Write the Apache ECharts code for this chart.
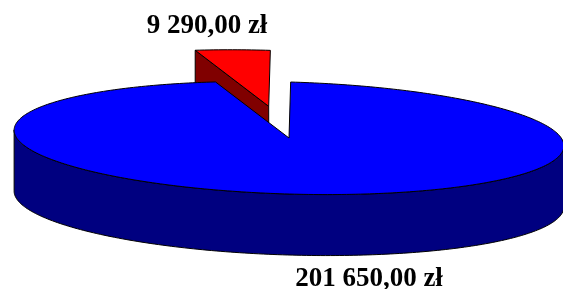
<!DOCTYPE html>
<html>
<head>
<meta charset="utf-8">
<script src="https://cdn.jsdelivr.net/npm/echarts@6/dist/echarts.min.js"></script>
<style>
html, body { margin: 0; padding: 0; background: #fff; }
#chart { width: 563px; height: 289px; }
</style>
</head>
<body>
<div id="chart"></div>
<script>
// dane wykresu
var names = ['Pozostałe', 'Wydzielone'];
var values = [201650, 9290];
var explode = [0, 0.56];          // wysunięcie wycinka (ułamek promienia)
var topColors = ['#0000ff', '#ff0000'];
var sideColors = ['#000080', '#800000'];

var opts = {
    cx: 289,        // środek elipsy
    cy: 138,
    rx: 275,        // półosie
    ry: 56,
    depth: 61,      // grubość placka
    tilt: 1.7 * Math.PI / 180
};

function fmt(v) {
    var s = v.toFixed(2).split('.');
    return s[0].replace(/\B(?=(\d{3})+(?!\d))/g, ' ') + ',' + s[1] + ' zł';
}

var total = values.reduce(function (a, b) { return a + b; }, 0);
var starts = [], acc = 0;
for (var i = 0; i < values.length; i++) {
    starts.push(acc / total * Math.PI * 2);
    acc += values[i];
}

// kąt liczony zgodnie z zegarem od godz. 12
function proj(theta, r, ox, oy, dz) {
    var x = opts.rx * r * Math.sin(theta),
        y = -opts.ry * r * Math.cos(theta),
        c = Math.cos(opts.tilt), s = Math.sin(opts.tilt);
    return [opts.cx + ox + x * c - y * s, opts.cy + oy + x * s + y * c + (dz || 0)];
}

function arc(a, b, ox, oy, dz) {
    var pts = [], n = Math.max(2, Math.ceil(Math.abs(b - a) / (Math.PI / 180)));
    for (var k = 0; k <= n; k++) {
        pts.push(proj(a + (b - a) * k / n, 1, ox, oy, dz));
    }
    return pts;
}

function renderItem(params, api) {
    var i = params.dataIndex,
        h = opts.depth,
        a1 = starts[i],
        a2 = a1 + api.value(0) / total * Math.PI * 2,
        mid = (a1 + a2) / 2,
        off = proj(mid, explode[i], 0, 0),
        ox = off[0] - opts.cx,
        oy = off[1] - opts.cy,
        base = 100 + Math.round(oy) * 10,
        line = { stroke: '#000', lineWidth: 1, lineJoin: 'round' },
        children = [];
    var C = [opts.cx + ox, opts.cy + oy],
        Ch = [C[0], C[1] + h];

    function face(points, fill, z) {
        children.push({
            type: 'polygon',
            z2: base + z,
            shape: { points: points },
            style: Object.assign({ fill: fill }, line)
        });
    }

    // ściany boczne przy krawędziach
    if (Math.sin(a1) < -0.01) {
        var p1 = proj(a1, 1, ox, oy);
        face([C, p1, [p1[0], p1[1] + h], Ch], sideColors[i], 1);
    }
    if (Math.sin(a2) > 0.01) {
        var p2 = proj(a2, 1, ox, oy);
        face([C, p2, [p2[0], p2[1] + h], Ch], sideColors[i], 1);
    }
    // ściana zewnętrzna (tylko przednia część)
    var lo = Math.max(a1, Math.PI / 2), hi = Math.min(a2, Math.PI * 1.5);
    if (lo < hi) {
        var topArc = arc(lo, hi, ox, oy, 0),
            botArc = arc(hi, lo, ox, oy, h);
        face(topArc.concat(botArc), sideColors[i], 2);
    }
    // wierzch
    face([C].concat(arc(a1, a2, ox, oy, 0)), topColors[i], 3);

    return { type: 'group', children: children };
}

var chart = echarts.init(document.getElementById('chart'), null, { renderer: 'canvas' });
var labelFont = 'bold 27px "Liberation Serif", "Times New Roman", serif';
chart.setOption({
    animation: false,
    series: [{
        type: 'custom',
        coordinateSystem: 'none',
        data: values.map(function (v, k) { return { name: names[k], value: [v] }; }),
        renderItem: renderItem
    }],
    graphic: [{
        type: 'text',
        x: 207, y: 26,
        style: { text: fmt(values[1]), font: labelFont, fill: '#000', align: 'center', verticalAlign: 'middle' }
    }, {
        type: 'text',
        x: 369, y: 279,
        style: { text: fmt(values[0]), font: labelFont, fill: '#000', align: 'center', verticalAlign: 'middle' }
    }]
});
</script>
</body>
</html>
